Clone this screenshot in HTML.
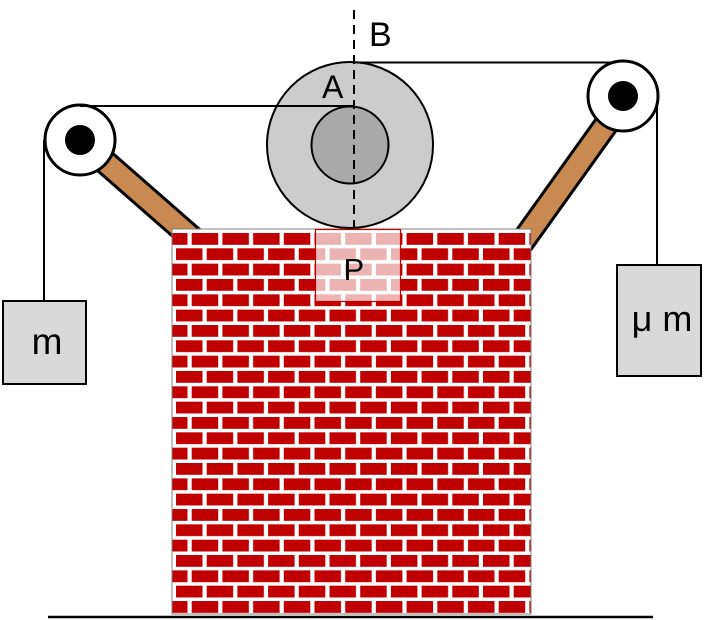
<!DOCTYPE html>
<html>
<head>
<meta charset="utf-8">
<style>
  html,body{margin:0;padding:0;background:#fff;}
  svg{display:block;}
  text{font-family:"Liberation Sans", Arial, sans-serif;fill:#000;}
</style>
</head>
<body>
<svg width="727" height="620" viewBox="0 0 727 620" xmlns="http://www.w3.org/2000/svg">
  <defs>
    <pattern id="bricks" patternUnits="userSpaceOnUse" x="174.5" y="231" width="30.7" height="30.67">
      <rect x="0" y="0" width="30.7" height="30.67" fill="#ffffff"/>
      <rect x="17.2" y="2" width="26.5" height="11.8" fill="#c00000"/>
      <rect x="-13.5" y="2" width="26.5" height="11.8" fill="#c00000"/>
      <rect x="1.5" y="17.3" width="26.5" height="11.8" fill="#c00000"/>
    </pattern>
    <linearGradient id="wood" x1="0" y1="0" x2="1" y2="1">
      <stop offset="0" stop-color="#c4834c"/>
      <stop offset="0.5" stop-color="#cf9460"/>
      <stop offset="1" stop-color="#c0804a"/>
    </linearGradient>
  </defs>

  <!-- ropes -->
  <line x1="44" y1="140" x2="44" y2="301" stroke="#000" stroke-width="2"/>
  <line x1="80" y1="106" x2="354" y2="106" stroke="#000" stroke-width="2"/>
  <line x1="354" y1="62.5" x2="623" y2="62.5" stroke="#000" stroke-width="2"/>
  <line x1="657" y1="96" x2="657" y2="265" stroke="#000" stroke-width="2"/>

  <!-- sticks -->
  <line x1="80" y1="140" x2="208" y2="252" stroke="#000" stroke-width="26"/>
  <line x1="80" y1="140" x2="208" y2="252" stroke="#c98a52" stroke-width="20"/>
  <line x1="625.4" y1="97.7" x2="520" y2="245" stroke="#000" stroke-width="26"/>
  <line x1="625.4" y1="97.7" x2="520" y2="245" stroke="#c98a52" stroke-width="20"/>

  <!-- pulleys -->
  <circle cx="80" cy="140" r="35" fill="#fff" stroke="#000" stroke-width="3"/>
  <circle cx="80" cy="140" r="15" fill="#000"/>
  <circle cx="623" cy="96" r="35" fill="#fff" stroke="#000" stroke-width="3"/>
  <circle cx="623" cy="96" r="15" fill="#000"/>

  <!-- wall -->
  <rect x="172" y="229" width="359" height="385" fill="url(#bricks)" stroke="#808080" stroke-width="1"/>
  <rect x="315.5" y="229.5" width="85" height="72" fill="#ffffff" fill-opacity="0.7" stroke="#c00000" stroke-width="1.2"/>

  <!-- spool -->
  <circle cx="350" cy="145" r="83" fill="#cccccc" stroke="#000" stroke-width="2"/>
  <circle cx="350" cy="145" r="38.5" fill="#a9a9a9" stroke="#000" stroke-width="2"/>
  <line x1="80" y1="106" x2="354" y2="106" stroke="#000" stroke-width="2"/>
  <line x1="354" y1="62.5" x2="440" y2="62.5" stroke="#000" stroke-width="2"/>
  <line x1="354" y1="10" x2="354" y2="227" stroke="#000" stroke-width="2" stroke-dasharray="9,6"/>

  <!-- labels -->
  <text x="322" y="98" font-size="32">A</text>
  <text x="369" y="46" font-size="34">B</text>
  <text x="343.5" y="280" font-size="31">P</text>

  <!-- blocks -->
  <rect x="3" y="301" width="83" height="83" fill="#d9d9d9" stroke="#000" stroke-width="2"/>
  <text x="47" y="354" font-size="37" text-anchor="middle">m</text>
  <rect x="617" y="265" width="84" height="111" fill="#d9d9d9" stroke="#000" stroke-width="2"/>
  <text x="662" y="331" font-size="36" text-anchor="middle">μ m</text>

  <!-- ground -->
  <line x1="48" y1="617" x2="653" y2="617" stroke="#000" stroke-width="2.5"/>
</svg>
</body>
</html>
